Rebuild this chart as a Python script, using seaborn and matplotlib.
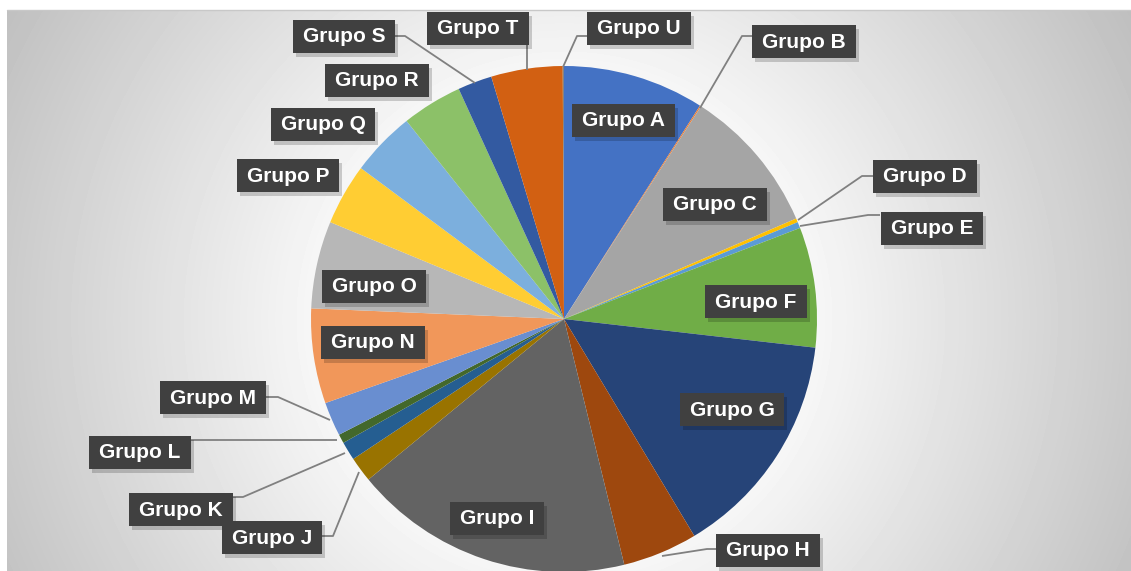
import numpy as np
import matplotlib
matplotlib.use("Agg")
import matplotlib.pyplot as plt
import seaborn as sns
from matplotlib.patches import Rectangle

# --- data (percent share per group) ---
groups = ["Grupo A", "Grupo B", "Grupo C", "Grupo D", "Grupo E", "Grupo F", "Grupo G",
          "Grupo H", "Grupo I", "Grupo J", "Grupo K", "Grupo L", "Grupo M", "Grupo N",
          "Grupo O", "Grupo P", "Grupo Q", "Grupo R", "Grupo S", "Grupo T", "Grupo U"]
shares = [9.03, 0.08, 9.39, 0.25, 0.39, 7.67, 14.58,
          4.78, 17.89, 1.61, 1.19, 0.58, 2.17, 6.06,
          5.58, 3.92, 4.14, 3.86, 2.19, 4.56, 0.08]
colors = ["#4472C4", "#ED7D31", "#A5A5A5", "#FFC000", "#5B9BD5", "#70AD47", "#264478",
          "#9E480E", "#636363", "#997300", "#255E91", "#43682B", "#698ED0", "#F1975A",
          "#B7B7B7", "#FFCD33", "#7CAFDD", "#8CC168", "#335AA1", "#D26012", "#848484"]

W, H = 1131, 571
sns.set_theme(style="white")
plt.rcParams["font.family"] = ["Liberation Sans", "DejaVu Sans"]

fig = plt.figure(figsize=(W / 100, H / 100), dpi=100)
ax = fig.add_axes([0, 0, 1, 1])

# radial grey background of the chart area
cx, cy = 564, 319
xs = np.arange(7, W)
ys = np.arange(10, H)
X, Y = np.meshgrid(xs, ys)
r = np.hypot(X - cx, Y - cy)
v = (248 - 58 * np.clip((r - 240) / 410, 0, 1)) / 255
ax.imshow(v, cmap="gray", vmin=0, vmax=1, extent=(7, W, 0, H - 10),
          origin="upper", zorder=0, interpolation="bilinear")
ax.plot([7, W], [H - 10, H - 10], color="#c8c8c8", lw=1, zorder=1)

# pie
ax.pie(shares, colors=sns.color_palette(colors), startangle=90, counterclock=False,
       center=(cx, H - cy), radius=253, wedgeprops=dict(linewidth=0),
       frame=True)

# label boxes: centre in pixels, optional leader line points
labels = {
    "Grupo A": ((623, 120), None),
    "Grupo B": ((804, 41), [(753, 36), (742, 36), (700, 108)]),
    "Grupo C": ((715, 204), None),
    "Grupo D": ((925, 176), [(873, 176), (862, 176), (798, 220)]),
    "Grupo E": ((932, 228), [(880, 215), (868, 215), (800, 226)]),
    "Grupo F": ((756, 301), None),
    "Grupo G": ((732, 409), None),
    "Grupo H": ((768, 550), [(717, 549), (707, 549), (662, 556)]),
    "Grupo I": ((497, 518), None),
    "Grupo J": ((272, 537), [(322, 536), (333, 536), (359, 472)]),
    "Grupo K": ((181, 509), [(232, 497), (243, 497), (345, 453)]),
    "Grupo L": ((140, 452), [(190, 440), (337, 440)]),
    "Grupo M": ((213, 397), [(266, 397), (278, 397), (330, 420)]),
    "Grupo N": ((373, 342), None),
    "Grupo O": ((374, 286), None),
    "Grupo P": ((288, 175), None),
    "Grupo Q": ((323, 124), None),
    "Grupo R": ((377, 80), None),
    "Grupo S": ((344, 36), [(394, 36), (405, 36), (475, 83)]),
    "Grupo T": ((478, 28), [(527, 44), (527, 70)]),
    "Grupo U": ((639, 28), [(588, 36), (577, 36), (563, 67)]),
}

for name in groups:
    (lx, ly), leader = labels[name]
    if leader:
        px = [p[0] for p in leader]
        py = [H - p[1] for p in leader]
        ax.plot(px, py, color="#808080", lw=1.3, zorder=3, solid_capstyle="butt")

fig.canvas.draw()
renderer = fig.canvas.get_renderer()
for name in groups:
    (lx, ly), leader = labels[name]
    t = ax.text(lx, H - ly - 1, name, color="white", fontsize=15, fontweight="bold",
                ha="center", va="center", zorder=6)
    bb = t.get_window_extent(renderer)
    bw = bb.width + 20
    bh = 33
    ax.add_patch(Rectangle((lx - bw / 2 + 3, H - ly - bh / 2 - 4), bw, bh,
                           facecolor="#000000", alpha=0.18, lw=0, zorder=4))
    ax.add_patch(Rectangle((lx - bw / 2, H - ly - bh / 2), bw, bh,
                           facecolor="#404040", lw=0, zorder=5))

ax.set_xlim(0, W)
ax.set_ylim(0, H)
ax.set_aspect("auto")
ax.axis("off")
fig.savefig("out.png", dpi=100, facecolor="white")
